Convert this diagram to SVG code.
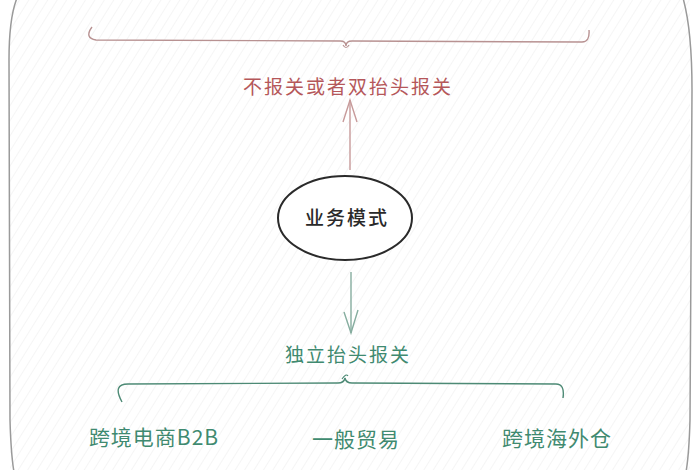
<svg xmlns="http://www.w3.org/2000/svg" width="700" height="470" viewBox="0 0 700 470">
  <defs>
    <pattern id="hatch" width="8" height="8" patternUnits="userSpaceOnUse" patternTransform="rotate(32)">
      <line x1="0" y1="0" x2="0" y2="8" stroke="#ececec" stroke-width="1"/>
    </pattern>
    <style>
      .red { fill: #b5575a; font-family: "Noto Sans CJK SC", "Liberation Sans", sans-serif; font-size: 19px; text-anchor: middle; letter-spacing: 2px; }
      .green { fill: #3f8a70; font-family: "Noto Sans CJK SC", "Liberation Sans", sans-serif; font-size: 19px; text-anchor: middle; letter-spacing: 2px; }
      .greenbig { fill: #3f8a70; font-family: "Noto Sans CJK SC", "Liberation Sans", sans-serif; font-size: 21px; text-anchor: middle; letter-spacing: 1px; }
      .dark { fill: #2a2a2a; font-family: "Noto Sans CJK SC", "Liberation Sans", sans-serif; font-size: 19px; font-weight: 500; text-anchor: middle; letter-spacing: 2px; }
    </style>
  </defs>
  <rect x="0" y="0" width="700" height="470" fill="#ffffff"/>
  <rect x="10" y="0" width="680" height="470" fill="url(#hatch)"/>
  <path d="M17,-2 Q9,18 9,60 L10,420 Q11,455 14,472 M683,-2 Q692,30 692,90 L690,420 Q689,455 686,472" fill="none" stroke="#9a9a9a" stroke-width="1.5"/>

  <g id="connectors">
    <g id="top-brace">
      <path d="M92,27 Q84,38 96,40 L340,41 Q346,41 346,46 Q346,41 352,41 L582,42 Q590,42 589,30" fill="none" stroke="#b89292" stroke-width="1.4"/>
      <path d="M343,45 q3,5 6,0" fill="none" stroke="#b89292" stroke-width="1.2"/>
    </g>
    <g id="arrow-up" stroke="#c79a9a" stroke-width="1.4" fill="none">
      <line x1="350" y1="170" x2="350" y2="100"/>
      <path d="M343,122 L350,100 L357,122"/>
    </g>
    <g id="arrow-down" stroke="#86ad9f" stroke-width="1.4" fill="none">
      <line x1="351" y1="272" x2="351" y2="333"/>
      <path d="M344,312 L351,333 L358,310"/>
    </g>
    <g id="bottom-brace">
      <path d="M122,402 Q112,384 128,384 L338,383 Q344,383 345,378 Q346,383 352,383 L556,384 Q565,384 563,398" fill="none" stroke="#4d8a75" stroke-width="1.4"/>
      <path d="M342,379 q4,-6 6,-3" fill="none" stroke="#4d8a75" stroke-width="1.2"/>
    </g>
  </g>

  <g id="node-top">
    <text class="red" x="348" y="94">不报关或者双抬头报关</text>
  </g>
  <g id="node-center">
    <ellipse cx="345" cy="218" rx="67" ry="42" fill="#ffffff" stroke="#2a2a2a" stroke-width="2"/>
    <text class="dark" x="347" y="225">业务模式</text>
  </g>
  <g id="node-independent">
    <text class="green" x="348" y="362">独立抬头报关</text>
  </g>
  <g id="node-b2b">
    <text class="greenbig" x="154" y="445">跨境电商B2B</text>
  </g>
  <g id="node-general">
    <text class="greenbig" x="356" y="447">一般贸易</text>
  </g>
  <g id="node-overseas">
    <text class="greenbig" x="557" y="446">跨境海外仓</text>
  </g>
</svg>
